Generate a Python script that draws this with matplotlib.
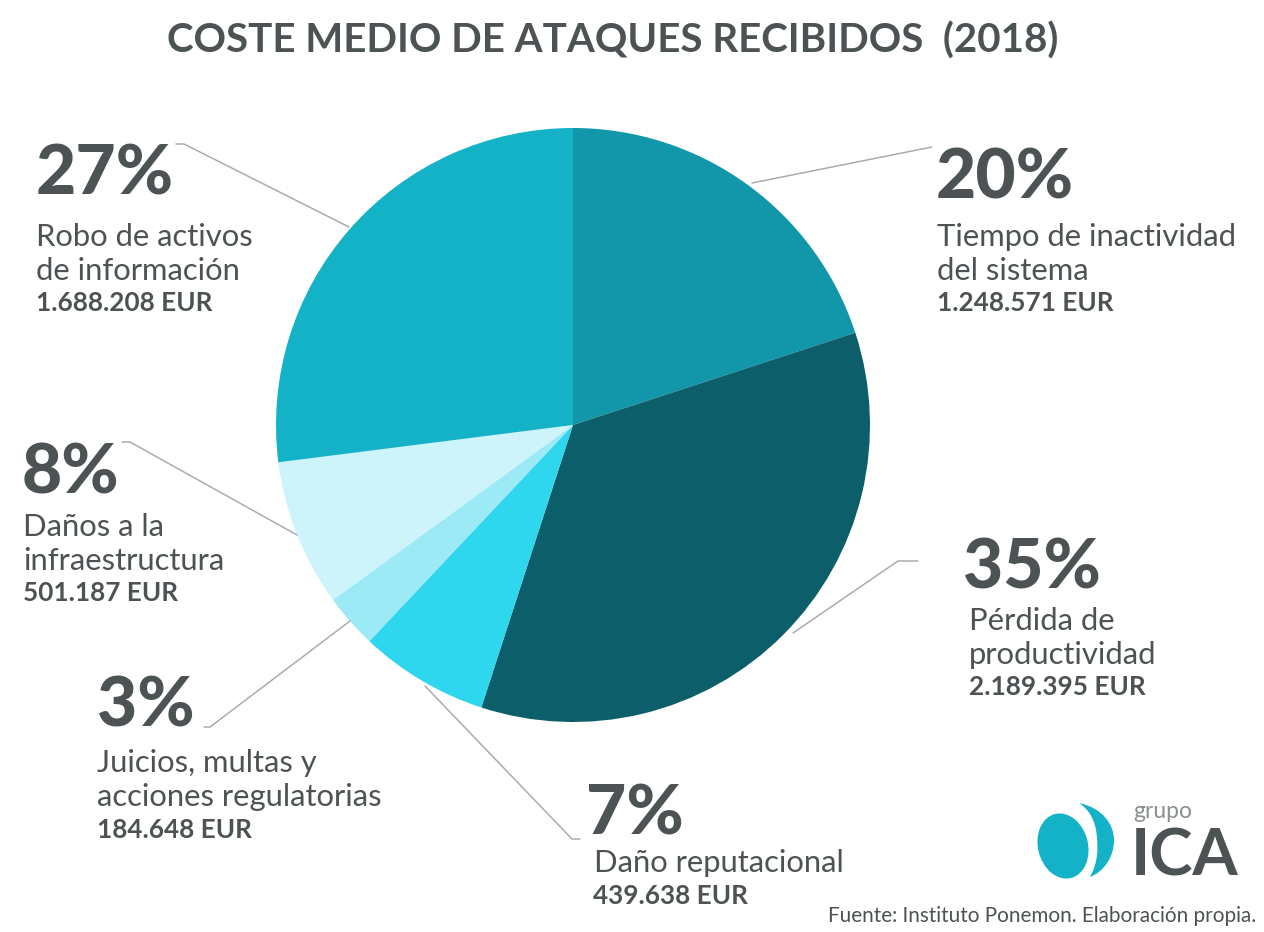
import matplotlib
matplotlib.use("Agg")
import matplotlib.pyplot as plt
from matplotlib.patches import Ellipse, PathPatch
from matplotlib.path import Path

W, H = 1264, 932

# datos del grafico, en sentido horario desde arriba
categorias = ["Tiempo de inactividad\ndel sistema", "Pérdida de\nproductividad", "Daño reputacional",
              "Juicios, multas y\nacciones regulatorias", "Daños a la\ninfraestructura",
              "Robo de activos\nde información"]
costes = [1248571, 2189395, 439638, 184648, 501187, 1688208]
costes_txt = ["1.248.571 EUR", "2.189.395 EUR", "439.638 EUR", "184.648 EUR", "501.187 EUR", "1.688.208 EUR"]
porcentajes = ["20%", "35%", "7%", "3%", "8%", "27%"]
colores = ["#1297aa", "#0b5e6a", "#2ed6ee", "#9ceaf6", "#cdf4fb", "#14b2c7"]

GRIS = "#4d5354"
plt.rcParams["font.family"] = ["Lato", "DejaVu Sans"]

fig = plt.figure(figsize=(W / 100, H / 100), dpi=100, facecolor="white")

# tarta
cx, cy, r = 573, 425, 297
ax_pie = fig.add_axes([(cx - r) / W, 1 - (cy + r) / H, 2 * r / W, 2 * r / H])
ax_pie.pie(costes, colors=colores, startangle=90, counterclock=False, radius=1,
           wedgeprops={"linewidth": 0})
ax_pie.set_xlim(-1, 1)
ax_pie.set_ylim(-1, 1)
ax_pie.axis("off")

# capa en pixeles para textos y lineas
ax = fig.add_axes([0, 0, 1, 1], facecolor="none")
ax.set_xlim(0, W)
ax.set_ylim(H, 0)
ax.axis("off")

ax.text(613, 41, "COSTE MEDIO DE ATAQUES RECIBIDOS  (2018)", fontsize=29, fontweight="bold",
        color=GRIS, ha="center", va="center")

# posicion de cada etiqueta
pos_x = [936, 963, 586, 97, 22, 36]
pos_x_txt = [937, 969, 594, 97, 23, 36]
pos_x_eur = [937, 969, 593, 97, 23, 36]
pos_pct = [179, 569, 815, 707, 474, 175]
pos_txt = [237, 621, 863, 763, 527, 237]
pos_eur = [303, 687, 896, 830, 593, 303]

guias = [
    [(752, 183), (932, 147)],
    [(793, 633), (898, 561), (918, 561)],
    [(425, 686), (572, 839), (580, 839)],
    [(350, 621), (210, 727), (204, 727)],
    [(297, 535), (130, 442), (122, 442)],
    [(349, 227), (184, 144), (176, 144)],
]
for g in guias:
    ax.plot([p[0] for p in g], [p[1] for p in g], color="#a9acad", lw=1.1, solid_capstyle="round")

for i in range(len(categorias)):
    ax.text(pos_x[i], pos_pct[i], porcentajes[i], fontsize=50, fontweight="black",
            color=GRIS, ha="left", va="center")
    ax.text(pos_x_txt[i], pos_txt[i], categorias[i].split("\n")[0], fontsize=22.3, color=GRIS,
            ha="left", va="center")
    if "\n" in categorias[i]:
        ax.text(pos_x_txt[i], pos_txt[i] + 34, categorias[i].split("\n")[1], fontsize=22.3, color=GRIS,
                ha="left", va="center")
    ax.text(pos_x_eur[i], pos_eur[i], costes_txt[i], fontsize=18.8, fontweight="bold",
            color=GRIS, ha="left", va="center")

ax.text(1256, 916, "Fuente: Instituto Ponemon. Elaboración propia.", fontsize=14.9, color=GRIS,
        ha="right", va="center")

# logo
ax.add_patch(Ellipse((1063, 846), 50, 66, angle=-14, color="#14b2c7", lw=0))
luna = Path([(1079, 803), (1103, 808), (1114, 825), (1114, 840),
             (1114, 858), (1103, 872), (1090, 877),
             (1098, 862), (1098, 850), (1097, 838),
             (1096, 822), (1090, 810), (1079, 803), (1079, 803)],
            [Path.MOVETO, Path.CURVE4, Path.CURVE4, Path.CURVE4,
             Path.CURVE4, Path.CURVE4, Path.CURVE4,
             Path.CURVE4, Path.CURVE4, Path.CURVE4,
             Path.CURVE4, Path.CURVE4, Path.CURVE4, Path.CLOSEPOLY])
ax.add_patch(PathPatch(luna, facecolor="#14b2c7", lw=0))
ax.text(1133, 812, "grupo", fontsize=16.5, color="#8a8f90", ha="left", va="center")
ax.text(1131, 857, "ICA", fontsize=47, fontweight="bold", color=GRIS, ha="left", va="center")

fig.savefig("out.png", dpi=100)
